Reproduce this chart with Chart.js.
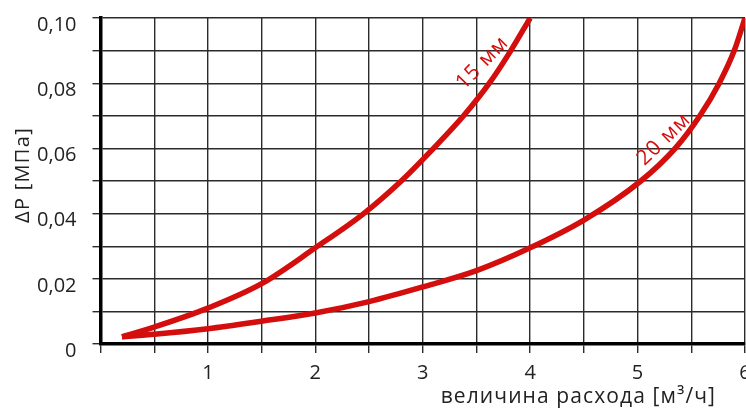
<!DOCTYPE html>
<html>
<head>
<meta charset="utf-8">
<script src="https://cdn.jsdelivr.net/npm/chart.js@4"></script>
<style>
  html, body { margin: 0; padding: 0; background: #fff; }
  #wrap { width: 746px; height: 408px; }
</style>
</head>
<body>
<div id="wrap"><canvas id="myChart" width="746" height="408"></canvas></div>
<script>
// flow, m3/h  and  pressure drop, MPa
var flow15 = [0.2, 0.5, 1, 1.5, 2, 2.45, 2.8, 3.1, 3.38, 3.62, 3.82, 4.0];
var dp15 = [0.0022, 0.0052, 0.011, 0.0185, 0.0295, 0.04, 0.05, 0.06, 0.07, 0.08, 0.09, 0.10];

var flow20 = [0.2, 0.5, 1, 1.5, 2, 2.5, 3, 3.5, 4, 4.5, 5.03, 5.35, 5.58, 5.76, 5.9, 6.0];
var dp20 = [0.0022, 0.003, 0.0047, 0.007, 0.0095, 0.013, 0.0175, 0.0225, 0.0295, 0.038, 0.05, 0.06, 0.07, 0.08, 0.09, 0.10];

var seriesNames = ['15 мм', '20 мм'];
var xTickLabels = ['', '1', '2', '3', '4', '5', '6'];
var yTickLabels = ['0', '0,02', '0,04', '0,06', '0,08', '0,10'];

// where the curve names sit (data coords) and their tilt
var namePos = [[3.555, 0.0862], [5.245, 0.0628]];
var nameAngle = [-46, -44];

var RED = '#d40d0d';
var GRID = '#2b2b2b';
var FONT = "'Open Sans', 'Noto Sans', sans-serif";

function toPoints(xs, ys) {
  var pts = [];
  for (var i = 0; i < xs.length; i++) pts.push({ x: xs[i], y: ys[i] });
  return pts;
}

// curve names and the axis captions
var extraText = {
  id: 'extraText',
  afterDatasetsDraw: function (chart) {
    var ctx = chart.ctx;
    var xs = chart.scales.x, ys = chart.scales.y;
    ctx.save();
    ctx.fillStyle = RED;
    ctx.font = '21px ' + FONT;
    ctx.letterSpacing = '1px';
    ctx.textAlign = 'center';
    ctx.textBaseline = 'middle';
    for (var i = 0; i < seriesNames.length; i++) {
      ctx.save();
      ctx.translate(xs.getPixelForValue(namePos[i][0]), ys.getPixelForValue(namePos[i][1]));
      ctx.rotate(nameAngle[i] * Math.PI / 180);
      ctx.fillText(seriesNames[i], 0, 0);
      ctx.restore();
    }
    ctx.fillStyle = '#222';
    ctx.font = '21px ' + FONT;
    ctx.letterSpacing = '1.1px';
    ctx.textAlign = 'right';
    ctx.textBaseline = 'alphabetic';
    ctx.fillText('величина расхода [м³/ч]', 716, 403);

    ctx.save();
    ctx.translate(23, 175);
    ctx.rotate(-Math.PI / 2);
    ctx.font = '20px ' + FONT;
    ctx.letterSpacing = '1.3px';
    ctx.textAlign = 'center';
    ctx.textBaseline = 'middle';
    ctx.fillText('ΔP [МПа]', 0, 0);
    ctx.restore();
    ctx.restore();
  }
};

var ctx = document.getElementById('myChart');
new Chart(ctx, {
  type: 'scatter',
  data: {
    datasets: [{
      label: seriesNames[0],
      data: toPoints(flow15, dp15),
      showLine: true,
      borderColor: RED,
      borderWidth: 5.5,
      pointRadius: 0,
      cubicInterpolationMode: 'monotone'
    }, {
      label: seriesNames[1],
      data: toPoints(flow20, dp20),
      showLine: true,
      borderColor: RED,
      borderWidth: 5.5,
      pointRadius: 0,
      cubicInterpolationMode: 'monotone'
    }]
  },
  options: {
    responsive: false,
    animation: false,
    devicePixelRatio: 1,
    layout: { padding: { top: 18, right: 1, left: 0, bottom: 0 } },
    plugins: { legend: { display: false }, tooltip: { enabled: false } },
    scales: {
      x: {
        type: 'linear',
        min: 0,
        max: 6,
        afterFit: function (s) { s.height = 64; s.paddingLeft = 0; s.paddingRight = 0; },
        ticks: {
          stepSize: 0.5,
          autoSkip: false,
          maxRotation: 0,
          padding: 8,
          color: '#222',
          font: { family: FONT, size: 20 },
          callback: function (v, i) { return i % 2 === 0 ? xTickLabels[i / 2] : ''; }
        },
        grid: { color: GRID, lineWidth: 1.4, tickLength: 9, tickColor: GRID },
        border: { color: '#000', width: 3.5 }
      },
      y: {
        min: 0,
        max: 0.1,
        afterFit: function (s) { s.width = 100.5; s.paddingTop = 0; s.paddingBottom = 0; },
        ticks: {
          stepSize: 0.01,
          autoSkip: false,
          padding: 16,
          labelOffset: 7,
          color: '#222',
          font: { family: FONT, size: 20 },
          callback: function (v, i) { return i % 2 === 0 ? yTickLabels[i / 2] : ''; }
        },
        grid: { color: GRID, lineWidth: 1.4, tickLength: 8, tickColor: GRID },
        border: { color: '#000', width: 3.5 }
      }
    }
  },
  plugins: [extraText]
});
</script>
</body>
</html>
